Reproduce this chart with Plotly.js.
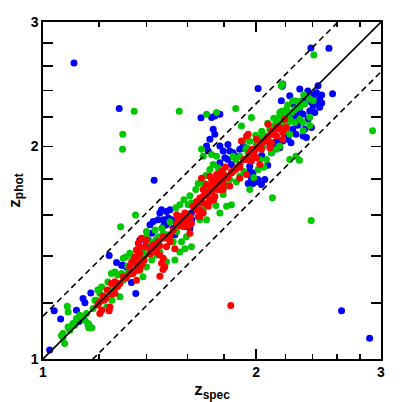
<!DOCTYPE html>
<html>
<head>
<meta charset="utf-8">
<script src="https://cdn.plot.ly/plotly-3.0.1.min.js"></script>
<style>
  html, body { margin: 0; padding: 0; background: #fff; }
</style>
</head>
<body>
<div id="chart" style="width:402px;height:402px"></div>
<script>
// z_spec / z_phot, one pair per dot
var blueZspec = [1.106,1.281,2.389,2.533,2.639,2.891,1.435,2.012,2.563,1.671,1.022,1.037,1.059,
  1.115,1.139,1.146,1.168,1.164,1.240,1.270,1.291,1.333,1.352,1.370,1.408,1.158,1.124,
  1.462,1.470,1.494,1.511,1.454,1.431,1.478,1.502,1.518,1.416,1.494,1.527,1.424,1.408,1.560,1.594,1.620,1.629,1.612,1.296,1.313,1.400,1.511,1.535,
  1.730,1.748,1.777,1.739,1.748,1.720,1.702,1.711,1.777,1.796,1.824,1.835,1.855,1.806,1.824,1.873,1.896,1.845,1.796,1.777,1.958,1.958,1.979,1.969,1.948,1.979,2.012,2.034,1.958,1.917,2.090,2.112,2.145,2.180,2.239,2.276,2.252,2.180,2.145,
  2.445,2.432,2.458,2.445,2.406,2.458,2.419,2.380,2.393,2.354,2.329,2.230,2.170,2.252,2.304,2.329,2.276,2.230,2.267,2.367,2.194,2.136,2.218,2.354,2.159,2.101,2.180,2.393,2.329,2.176,2.001,2.056,
  2.304,2.365,2.411,2.474,2.474,2.289,2.341,2.036,2.076,1.622,1.540,1.481];
var blueZphot = [2.625,2.262,2.756,2.755,1.170,1.070,1.791,2.415,2.374,2.195,1.030,1.170,1.139,
  1.172,1.218,1.201,1.240,1.110,1.401,1.370,1.358,1.283,1.238,1.474,1.458,1.120,1.130,
  1.609,1.627,1.618,1.627,1.574,1.565,1.574,1.583,1.574,1.549,1.549,1.532,1.507,1.474,1.574,1.540,1.609,1.645,1.532,1.358,1.349,1.458,1.490,1.499,
  2.197,2.209,2.221,2.115,2.080,2.047,2.003,1.970,2.003,1.970,2.013,1.970,1.959,1.927,1.917,1.937,1.981,1.886,1.866,1.896,1.875,1.843,1.833,1.802,1.772,1.772,1.795,1.766,1.766,2.003,2.024,2.003,2.035,2.035,2.024,2.080,2.115,2.115,2.138,
  2.437,2.383,2.334,2.309,2.284,2.272,2.233,2.245,2.309,2.359,2.321,2.359,2.321,2.296,2.245,2.221,2.209,2.209,2.185,2.185,2.080,2.035,2.047,2.058,1.991,1.959,2.451,2.127,2.069,2.433,1.782,1.795,
  2.411,2.395,2.364,2.364,2.303,2.143,2.115,1.942,1.880,1.574,1.564,1.544];

var greenZspec = [2.412,2.919,2.391,1.345,1.557,1.296,1.295,2.108,2.301,2.178,1.871,1.351,1.287,
  1.082,1.085,1.115,1.067,1.067,1.085,1.102,1.139,1.152,1.158,1.146,1.177,1.190,1.203,1.210,1.223,1.230,1.249,1.270,1.284,1.298,1.312,1.326,1.291,1.263,1.249,1.340,1.370,1.384,1.400,1.309,1.062,1.073,1.160,1.172,
  1.400,1.439,1.454,1.478,1.502,1.544,1.560,1.603,1.620,1.656,1.711,1.720,1.796,1.816,1.777,1.683,1.702,1.620,1.560,1.535,1.494,1.462,1.431,1.447,1.424,1.393,1.355,1.326,1.298,1.319,1.370,1.400,1.384,1.478,1.527,1.569,1.594,1.586,
  1.758,1.702,1.674,1.683,1.730,1.758,1.739,1.767,1.720,1.855,1.896,1.917,1.948,1.938,2.001,2.034,2.067,2.090,2.136,2.159,2.180,2.230,2.267,2.206,1.906,1.969,1.917,1.796,1.855,1.896,1.875,1.835,1.796,1.786,1.958,1.845,2.012,2.067,2.101,2.136,2.045,2.276,2.230,
  2.252,2.380,2.406,2.341,2.304,2.267,2.244,2.206,2.194,2.159,2.136,2.112,2.170,2.218,2.329,2.380,2.329,2.230,2.159,2.101,2.206,2.170,2.304,
  1.091,1.109,1.127,1.184,1.195,1.235,1.251,1.275,1.317,1.344,1.416,1.443,1.471,1.511,1.540,1.581,1.612,1.643,1.687,1.698,
  1.823,1.871,1.933,1.958,1.997,2.036,2.076,2.117,2.173,2.215,2.274,2.334,2.304,2.380,2.023,2.049,1.921,1.984,1.754,1.665];
var greenZphot = [2.694,2.104,1.571,2.243,2.243,2.081,1.982,1.692,1.912,2.450,2.262,1.599,1.539,
  1.188,1.166,1.141,1.087,1.072,1.110,1.123,1.147,1.160,1.123,1.135,1.179,1.211,1.239,1.265,1.225,1.185,1.252,1.265,1.225,1.293,1.307,1.336,1.321,1.328,1.321,1.389,1.395,1.427,1.490,1.395,1.080,1.052,1.107,1.107,
  1.515,1.523,1.490,1.507,1.499,1.515,1.654,1.654,1.663,1.772,1.737,1.681,1.709,1.645,1.609,1.627,1.574,1.442,1.417,1.381,1.373,1.417,1.433,1.404,1.381,1.404,1.427,1.412,1.389,1.321,1.336,1.350,1.307,1.482,1.466,1.466,1.490,1.433,
  2.233,2.221,1.981,1.937,1.948,1.937,1.886,1.866,1.855,1.937,1.937,1.917,1.948,1.991,2.013,2.058,2.069,2.115,2.162,2.209,2.173,2.185,2.162,2.221,2.138,2.197,2.035,1.855,1.843,1.814,1.782,1.795,1.782,1.814,1.737,1.654,1.855,1.917,1.959,1.981,2.003,1.937,1.917,
  2.321,2.334,2.321,2.296,2.272,2.258,2.233,2.258,2.209,2.233,2.173,2.138,2.150,2.162,2.162,2.140,2.104,2.080,2.003,2.104,2.104,2.438,2.315,
  1.098,1.116,1.153,1.211,1.252,1.285,1.211,1.315,1.354,1.372,1.465,1.474,1.533,1.564,1.638,1.681,1.703,1.737,1.772,1.819,
  1.760,1.917,1.981,2.033,2.074,2.101,2.157,2.192,2.243,2.288,2.319,2.364,2.185,2.199,1.917,1.868,1.843,1.807,1.649,1.574];

var redZspec = [1.841,1.462,1.477,
  1.203,1.210,1.195,1.243,1.249,1.263,1.284,1.298,1.326,1.334,1.348,1.355,1.363,1.370,1.377,1.384,1.370,1.355,1.355,1.215,1.232,1.203,1.263,1.270,1.240,
  1.544,1.569,1.586,1.594,1.612,1.647,1.665,1.683,1.702,1.730,1.739,1.758,1.767,1.786,1.720,1.796,1.777,1.748,1.711,1.683,1.656,1.620,1.577,1.544,1.527,1.478,1.454,1.431,1.416,1.400,1.393,1.370,1.355,1.348,1.370,1.363,1.340,1.447,1.462,1.478,1.470,1.486,1.494,1.511,1.612,1.535,
  1.948,2.001,2.034,2.067,2.101,2.136,2.180,2.206,2.090,2.034,1.990,1.958,1.927,1.896,1.875,1.845,1.816,1.796,1.777,1.758,1.739,1.720,1.692,1.665,1.647,1.629,1.758,1.810,1.730,1.702,1.835,1.896,1.938,1.969,2.001,2.023,1.683,1.674,1.796,1.720,1.665,2.078,2.136,
  2.194,2.159,2.180,2.112,2.101,1.938,1.906,
  1.638,1.654,1.676,1.692,1.709,1.731,1.742,1.765,1.789,1.806,1.823,1.847,1.871,1.896,1.921,1.946,1.971,1.984,2.010,2.036,2.056,2.076,2.103,2.145,
  1.570,1.591,1.560,1.550,1.511,1.491,1.462,1.443,1.416,1.389,1.380,1.326,1.309,1.275,1.251,1.227,1.219,1.603,1.720,1.665,1.742];
var redZphot = [1.191,1.310,1.339,
  1.205,1.172,1.192,1.185,1.279,1.286,1.279,1.307,1.350,1.372,1.395,1.427,1.458,1.442,1.482,1.381,1.343,1.293,1.336,1.228,1.252,1.160,1.239,1.265,1.170,
  1.600,1.591,1.609,1.574,1.591,1.627,1.663,1.699,1.718,1.737,1.772,1.795,1.825,1.843,1.814,1.772,1.737,1.699,1.645,1.609,1.591,1.556,1.540,1.556,1.523,1.490,1.466,1.450,1.427,1.474,1.442,1.412,1.395,1.366,1.366,1.336,1.321,1.417,1.404,1.389,1.366,1.350,1.442,1.466,1.507,1.433,
  2.080,2.047,2.024,2.047,2.080,2.069,2.092,2.127,1.991,1.981,1.970,1.959,1.917,1.886,1.866,1.833,1.814,1.802,1.782,1.766,1.746,1.727,1.709,1.690,1.671,1.645,1.825,1.870,1.795,1.766,1.757,1.802,1.825,1.907,1.927,1.886,1.737,1.802,1.737,1.671,1.591,2.150,2.127,
  2.185,2.127,2.047,2.080,2.024,2.069,2.035,
  1.643,1.670,1.692,1.660,1.703,1.726,1.749,1.737,1.784,1.819,1.807,1.843,1.855,1.868,1.917,1.917,1.981,1.942,1.994,2.020,2.033,2.060,2.101,2.115,
  1.564,1.605,1.544,1.584,1.494,1.484,1.446,1.436,1.408,1.381,1.363,1.319,1.302,1.268,1.235,1.219,1.211,1.544,1.681,1.627,1.681];

// reference lines: one-to-one and the +/-15% limits
var lineZspec = [1, 3];
var oneToOne = [1, 3];
var upperLimit = [1.15, 3.45];
var lowerLimit = [0.85, 2.55];

var majorTicks = [1, 2, 3];
var minorTicks = [1.2, 1.4, 1.6, 1.8, 2.2, 2.4, 2.6, 2.8];
var minorStep = "L0.2";   // minor ticks every 0.2 in z

var axisFont = "Liberation Sans, Arial, sans-serif";

function dots(x, y, color){
    return {
        type: "scatter",
        mode: "markers",
        x: x,
        y: y,
        marker: {size: 7, color: color, line: {width: 0}},
        hoverinfo: "skip"
    };
}

function refLine(y, dash){
    return {
        type: "scatter",
        mode: "lines",
        x: lineZspec,
        y: y,
        line: {color: "black", width: 1.6, dash: dash},
        hoverinfo: "skip"
    };
}

var data = [
    dots(blueZspec, blueZphot, "#0000ff"),
    dots(greenZspec, greenZphot, "#00c800"),
    dots(redZspec, redZphot, "#ff0000"),
    refLine(oneToOne, "solid"),
    refLine(upperLimit, "6px,4px"),
    refLine(lowerLimit, "6px,4px"),
    // empty trace on the second x axis so its minor ticks get drawn
    {type: "scatter", mode: "markers", x: [], y: [], xaxis: "x2", yaxis: "y", hoverinfo: "skip"}
];

function axis(titleText){
    return {
        type: "log",
        range: [0, Math.log10(3)],
        tickmode: "array",
        tickvals: majorTicks,
        ticktext: majorTicks.map(String),
        ticks: "inside",
        ticklen: 10,
        tickwidth: 1.6,
        tickcolor: "black",
        showline: true,
        linecolor: "black",
        linewidth: 1.6,
        mirror: "allticks",
        showgrid: false,
        zeroline: false,
        tickfont: {family: axisFont, size: 14, color: "black", weight: "bold"},
        title: {text: titleText, font: {family: axisFont, size: 17, color: "black", weight: "bold"}, standoff: 6}
    };
}

var xaxis = axis("<b>z<sub>spec</sub></b>");
var yaxis = axis("<b>z<sub>phot</sub></b>");
yaxis.minor = {dtick: minorStep, tick0: 1, ticks: "inside", ticklen: 5, tickwidth: 1.6, tickcolor: "black", showgrid: false};

var layout = {
    width: 402,
    height: 402,
    margin: {l: 43, r: 21, t: 22, b: 43},
    paper_bgcolor: "white",
    plot_bgcolor: "white",
    showlegend: false,
    xaxis: xaxis,
    yaxis: yaxis,
    xaxis2: {
        type: "log",
        range: [0, Math.log10(3)],
        overlaying: "x",
        anchor: "y",
        side: "bottom",
        tickmode: "array",
        tickvals: minorTicks,
        showticklabels: false,
        ticks: "inside",
        ticklen: 5,
        tickwidth: 1.6,
        tickcolor: "black",
        showline: true,
        linecolor: "black",
        linewidth: 1.6,
        mirror: "allticks",
        showgrid: false,
        zeroline: false
    }
};

Plotly.newPlot("chart", data, layout, {staticPlot: true, displayModeBar: false});
</script>
</body>
</html>
